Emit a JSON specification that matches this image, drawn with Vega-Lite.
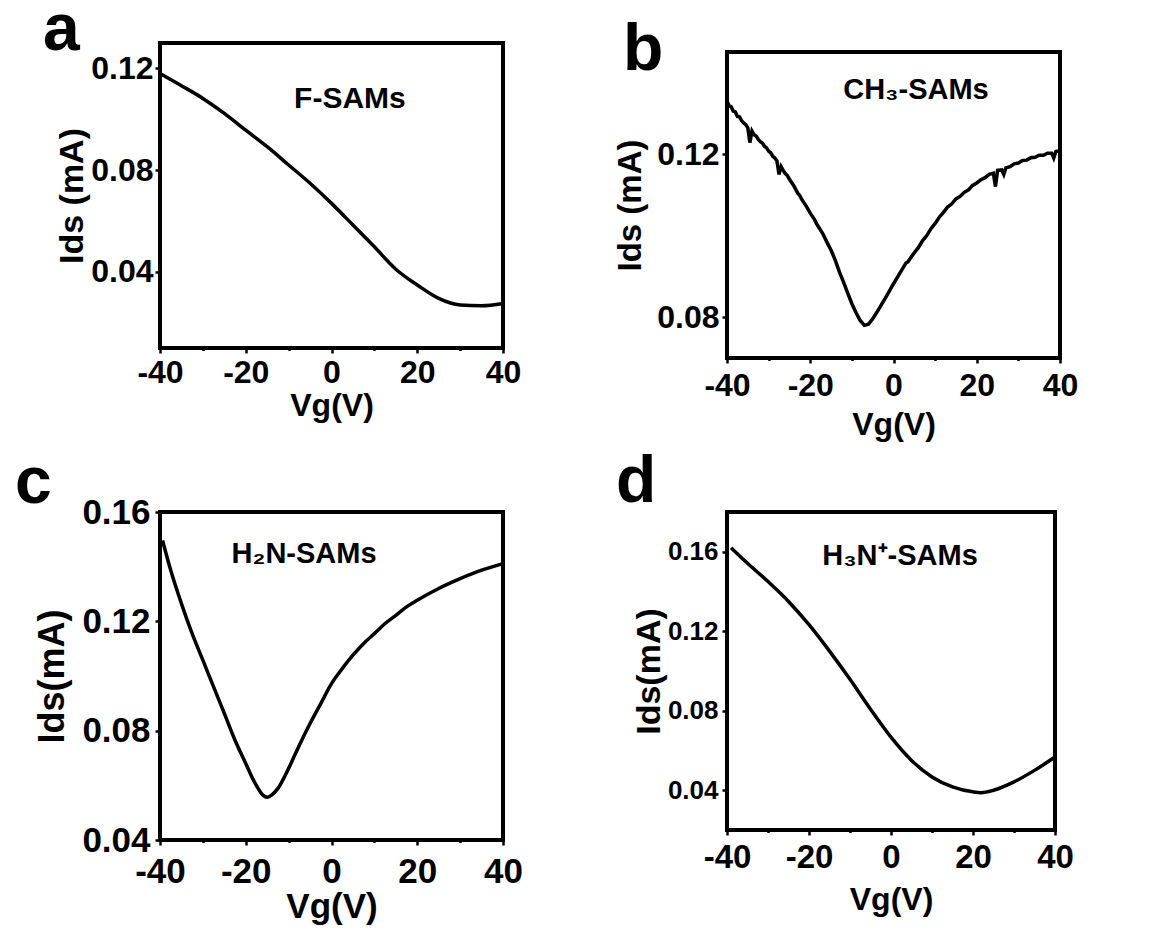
{
  "$schema": "https://vega.github.io/schema/vega-lite/v6.json",
  "padding": {"left": 13, "top": -5, "right": 0, "bottom": 0},
  "background": "white",
  "config": {
    "font": "Liberation Sans",
    "view": {"stroke": "black", "strokeWidth": 4},
    "axis": {
      "domain": false, "grid": false, "tickColor": "black", "tickWidth": 2.5,
      "labelColor": "black", "titleColor": "black",
      "labelFont": "Liberation Sans", "titleFont": "Liberation Sans",
      "labelFontWeight": "bold", "titleFontWeight": "bold",
      "labelOverlap": false, "labelFlush": false
    },
    "title": {"font": "Liberation Sans", "fontWeight": "bold", "color": "black", "anchor": "start", "frame": "group", "baseline": "alphabetic", "fontSize": 66}
  },
  "datasets": {
    "curves": [
      {"panel": "a", "vg": -40, "ids": 0.118},
      {"panel": "a", "vg": -35, "ids": 0.1132},
      {"panel": "a", "vg": -30, "ids": 0.1082},
      {"panel": "a", "vg": -25, "ids": 0.1023},
      {"panel": "a", "vg": -20, "ids": 0.0957},
      {"panel": "a", "vg": -15, "ids": 0.0892},
      {"panel": "a", "vg": -10, "ids": 0.082},
      {"panel": "a", "vg": -5, "ids": 0.0748},
      {"panel": "a", "vg": 0, "ids": 0.0669},
      {"panel": "a", "vg": 5, "ids": 0.0584},
      {"panel": "a", "vg": 10, "ids": 0.0498},
      {"panel": "a", "vg": 15, "ids": 0.041},
      {"panel": "a", "vg": 20, "ids": 0.0348},
      {"panel": "a", "vg": 25, "ids": 0.0295},
      {"panel": "a", "vg": 30, "ids": 0.0269},
      {"panel": "a", "vg": 35, "ids": 0.0266},
      {"panel": "a", "vg": 40, "ids": 0.0275},

      {"panel": "b", "vg": -40, "ids": 0.1330},
      {"panel": "b", "vg": -39.5, "ids": 0.1318},
      {"panel": "b", "vg": -39, "ids": 0.1316},
      {"panel": "b", "vg": -38.5, "ids": 0.1305},
      {"panel": "b", "vg": -38, "ids": 0.1303},
      {"panel": "b", "vg": -37.5, "ids": 0.1292},
      {"panel": "b", "vg": -37, "ids": 0.1291},
      {"panel": "b", "vg": -36.5, "ids": 0.1282},
      {"panel": "b", "vg": -36, "ids": 0.1276},
      {"panel": "b", "vg": -35.5, "ids": 0.1272},
      {"panel": "b", "vg": -35, "ids": 0.1264},
      {"panel": "b", "vg": -34.5, "ids": 0.1228},
      {"panel": "b", "vg": -34, "ids": 0.1256},
      {"panel": "b", "vg": -33.5, "ids": 0.1247},
      {"panel": "b", "vg": -33, "ids": 0.1244},
      {"panel": "b", "vg": -32.5, "ids": 0.1236},
      {"panel": "b", "vg": -32, "ids": 0.1230},
      {"panel": "b", "vg": -31.5, "ids": 0.1227},
      {"panel": "b", "vg": -31, "ids": 0.1219},
      {"panel": "b", "vg": -30.5, "ids": 0.1215},
      {"panel": "b", "vg": -30, "ids": 0.1207},
      {"panel": "b", "vg": -29.5, "ids": 0.1203},
      {"panel": "b", "vg": -29, "ids": 0.1194},
      {"panel": "b", "vg": -28.5, "ids": 0.1190},
      {"panel": "b", "vg": -28, "ids": 0.1183},
      {"panel": "b", "vg": -27.5, "ids": 0.1150},
      {"panel": "b", "vg": -27, "ids": 0.1169},
      {"panel": "b", "vg": -26.5, "ids": 0.1160},
      {"panel": "b", "vg": -26, "ids": 0.1152},
      {"panel": "b", "vg": -25.5, "ids": 0.1147},
      {"panel": "b", "vg": -25, "ids": 0.1138},
      {"panel": "b", "vg": -24, "ids": 0.1123},
      {"panel": "b", "vg": -23, "ids": 0.1104},
      {"panel": "b", "vg": -22.5, "ids": 0.1098},
      {"panel": "b", "vg": -22, "ids": 0.1088},
      {"panel": "b", "vg": -21, "ids": 0.1073},
      {"panel": "b", "vg": -20, "ids": 0.1055},
      {"panel": "b", "vg": -19, "ids": 0.1040},
      {"panel": "b", "vg": -18.5, "ids": 0.1029},
      {"panel": "b", "vg": -18, "ids": 0.1021},
      {"panel": "b", "vg": -17, "ids": 0.1005},
      {"panel": "b", "vg": -16, "ids": 0.0984},
      {"panel": "b", "vg": -15, "ids": 0.0964},
      {"panel": "b", "vg": -14, "ids": 0.0940},
      {"panel": "b", "vg": -13, "ids": 0.0911},
      {"panel": "b", "vg": -12, "ids": 0.0886},
      {"panel": "b", "vg": -11, "ids": 0.0859},
      {"panel": "b", "vg": -10, "ids": 0.0833},
      {"panel": "b", "vg": -9, "ids": 0.0811},
      {"panel": "b", "vg": -8, "ids": 0.0792},
      {"panel": "b", "vg": -7, "ids": 0.0780},
      {"panel": "b", "vg": -6, "ids": 0.0783},
      {"panel": "b", "vg": -5, "ids": 0.0796},
      {"panel": "b", "vg": -4, "ids": 0.0812},
      {"panel": "b", "vg": -3, "ids": 0.0829},
      {"panel": "b", "vg": -2, "ids": 0.0846},
      {"panel": "b", "vg": -1, "ids": 0.0864},
      {"panel": "b", "vg": 0, "ids": 0.0882},
      {"panel": "b", "vg": 1, "ids": 0.0899},
      {"panel": "b", "vg": 2, "ids": 0.0916},
      {"panel": "b", "vg": 3, "ids": 0.0933},
      {"panel": "b", "vg": 3.5, "ids": 0.0936},
      {"panel": "b", "vg": 4, "ids": 0.0944},
      {"panel": "b", "vg": 5, "ids": 0.0958},
      {"panel": "b", "vg": 6, "ids": 0.0971},
      {"panel": "b", "vg": 7, "ids": 0.0988},
      {"panel": "b", "vg": 8, "ids": 0.1000},
      {"panel": "b", "vg": 9, "ids": 0.1017},
      {"panel": "b", "vg": 10, "ids": 0.1030},
      {"panel": "b", "vg": 11, "ids": 0.1045},
      {"panel": "b", "vg": 12, "ids": 0.1057},
      {"panel": "b", "vg": 13, "ids": 0.1070},
      {"panel": "b", "vg": 14, "ids": 0.1078},
      {"panel": "b", "vg": 15, "ids": 0.1090},
      {"panel": "b", "vg": 16, "ids": 0.1096},
      {"panel": "b", "vg": 17, "ids": 0.1106},
      {"panel": "b", "vg": 18, "ids": 0.1112},
      {"panel": "b", "vg": 19, "ids": 0.1123},
      {"panel": "b", "vg": 20, "ids": 0.1129},
      {"panel": "b", "vg": 21, "ids": 0.1137},
      {"panel": "b", "vg": 22, "ids": 0.1142},
      {"panel": "b", "vg": 23, "ids": 0.1150},
      {"panel": "b", "vg": 24, "ids": 0.1153},
      {"panel": "b", "vg": 24.5, "ids": 0.1120},
      {"panel": "b", "vg": 25, "ids": 0.1160},
      {"panel": "b", "vg": 26, "ids": 0.1161},
      {"panel": "b", "vg": 26.5, "ids": 0.1150},
      {"panel": "b", "vg": 27, "ids": 0.1166},
      {"panel": "b", "vg": 28, "ids": 0.1169},
      {"panel": "b", "vg": 29, "ids": 0.1176},
      {"panel": "b", "vg": 30, "ids": 0.1178},
      {"panel": "b", "vg": 31, "ids": 0.1184},
      {"panel": "b", "vg": 32, "ids": 0.1185},
      {"panel": "b", "vg": 33, "ids": 0.1191},
      {"panel": "b", "vg": 34, "ids": 0.1192},
      {"panel": "b", "vg": 35, "ids": 0.1197},
      {"panel": "b", "vg": 36, "ids": 0.1197},
      {"panel": "b", "vg": 37, "ids": 0.1202},
      {"panel": "b", "vg": 38, "ids": 0.1202},
      {"panel": "b", "vg": 38.5, "ids": 0.1190},
      {"panel": "b", "vg": 39, "ids": 0.1206},
      {"panel": "b", "vg": 40, "ids": 0.1208},

      {"panel": "c", "vg": -39.4, "ids": 0.1496},
      {"panel": "c", "vg": -37.5, "ids": 0.1387},
      {"panel": "c", "vg": -35, "ids": 0.1265},
      {"panel": "c", "vg": -32.5, "ids": 0.1155},
      {"panel": "c", "vg": -30, "ids": 0.1058},
      {"panel": "c", "vg": -27.5, "ids": 0.096},
      {"panel": "c", "vg": -25, "ids": 0.0863},
      {"panel": "c", "vg": -22.5, "ids": 0.0765},
      {"panel": "c", "vg": -20, "ids": 0.068},
      {"panel": "c", "vg": -18, "ids": 0.0613},
      {"panel": "c", "vg": -16, "ids": 0.0564},
      {"panel": "c", "vg": -15, "ids": 0.0556},
      {"panel": "c", "vg": -14, "ids": 0.0564},
      {"panel": "c", "vg": -12.5, "ids": 0.0589},
      {"panel": "c", "vg": -10, "ids": 0.0662},
      {"panel": "c", "vg": -7.5, "ids": 0.0747},
      {"panel": "c", "vg": -5, "ids": 0.0826},
      {"panel": "c", "vg": -2.5, "ids": 0.0899},
      {"panel": "c", "vg": 0, "ids": 0.0972},
      {"panel": "c", "vg": 2.5, "ids": 0.1027},
      {"panel": "c", "vg": 5, "ids": 0.1076},
      {"panel": "c", "vg": 7.5, "ids": 0.1119},
      {"panel": "c", "vg": 10, "ids": 0.1155},
      {"panel": "c", "vg": 12.5, "ids": 0.1192},
      {"panel": "c", "vg": 15, "ids": 0.1222},
      {"panel": "c", "vg": 17.5, "ids": 0.1253},
      {"panel": "c", "vg": 20, "ids": 0.1277},
      {"panel": "c", "vg": 25, "ids": 0.132},
      {"panel": "c", "vg": 30, "ids": 0.1356},
      {"panel": "c", "vg": 35, "ids": 0.1387},
      {"panel": "c", "vg": 40, "ids": 0.1411},

      {"panel": "d", "vg": -39, "ids": 0.162},
      {"panel": "d", "vg": -35, "ids": 0.1542},
      {"panel": "d", "vg": -30, "ids": 0.145},
      {"panel": "d", "vg": -25, "ids": 0.135},
      {"panel": "d", "vg": -20, "ids": 0.1233},
      {"panel": "d", "vg": -15, "ids": 0.11},
      {"panel": "d", "vg": -10, "ids": 0.0958},
      {"panel": "d", "vg": -5, "ids": 0.0808},
      {"panel": "d", "vg": 0, "ids": 0.0667},
      {"panel": "d", "vg": 5, "ids": 0.055},
      {"panel": "d", "vg": 10, "ids": 0.0467},
      {"panel": "d", "vg": 15, "ids": 0.0417},
      {"panel": "d", "vg": 20, "ids": 0.0392},
      {"panel": "d", "vg": 22, "ids": 0.0388},
      {"panel": "d", "vg": 25, "ids": 0.04},
      {"panel": "d", "vg": 30, "ids": 0.0442},
      {"panel": "d", "vg": 35, "ids": 0.05},
      {"panel": "d", "vg": 40, "ids": 0.0567}
    ],
    "labels": [
      {"panel": "a", "vg": 4.3, "ids": 0.108, "text": "F-SAMs"},
      {"panel": "b", "vg": 5.4, "ids": 0.1356, "text": "CH₃-SAMs"},
      {"panel": "c", "vg": -6.4, "ids": 0.1446, "text": "H₂N-SAMs"},
      {"panel": "d", "vg": 2.2, "ids": 0.158, "text": "H₃N⁺-SAMs"}
    ]
  },
  "bounds": "full",
  "spacing": 87,
  "hconcat": [
    {
      "bounds": "flush",
      "spacing": 164,
      "vconcat": [
        {
          "width": 343, "height": 305,
          "title": {"text": "a", "dx": -117, "offset": -21},
          "layer": [
            {
              "data": {"name": "curves"},
              "transform": [{"filter": "datum.panel === 'a'"}],
              "mark": {"type": "line", "color": "black", "strokeWidth": 3.5, "interpolate": "monotone"},
              "encoding": {
                "x": {"field": "vg", "type": "quantitative", "scale": {"domain": [-40, 40], "nice": false, "zero": false},
                  "axis": {"title": "Vg(V)", "values": [-40, -30, -20, -10, 0, 10, 20, 30, 40],
                    "labelExpr": "datum.value % 20 === 0 ? toString(datum.value) : ''",
                    "tickSize": {"condition": {"test": "datum.value % 20 === 0", "value": 5}, "value": 2.5},
                    "labelFontSize": 32, "titleFontSize": 32, "labelPadding": 4, "titlePadding": 2}},
                "y": {"field": "ids", "type": "quantitative", "scale": {"domain": [0.01, 0.13], "nice": false, "zero": false},
                  "axis": {"title": "Ids (mA)", "values": [0.02, 0.04, 0.06, 0.08, 0.10, 0.12],
                    "labelExpr": "round(datum.value*100) % 4 === 0 ? format(datum.value, '.2f') : ''",
                    "tickSize": {"condition": {"test": "round(datum.value*100) % 4 === 0", "value": 5}, "value": 2.5},
                    "labelFontSize": 32, "titleFontSize": 34, "labelPadding": 2, "titlePadding": 1}}
              }
            },
            {
              "data": {"name": "labels"},
              "transform": [{"filter": "datum.panel === 'a'"}],
              "mark": {"type": "text", "fontSize": 30, "fontWeight": "bold", "color": "black", "align": "center", "baseline": "middle"},
              "encoding": {
                "x": {"field": "vg", "type": "quantitative"},
                "y": {"field": "ids", "type": "quantitative"},
                "text": {"field": "text"}
              }
            }
          ]
        },
        {
          "width": 343, "height": 328,
          "title": {"text": "c", "dx": -145, "offset": -22},
          "layer": [
            {
              "data": {"name": "curves"},
              "transform": [{"filter": "datum.panel === 'c'"}],
              "mark": {"type": "line", "color": "black", "strokeWidth": 3.5, "interpolate": "monotone"},
              "encoding": {
                "x": {"field": "vg", "type": "quantitative", "scale": {"domain": [-40, 40], "nice": false, "zero": false},
                  "axis": {"title": "Vg(V)", "values": [-40, -30, -20, -10, 0, 10, 20, 30, 40],
                    "labelExpr": "datum.value % 20 === 0 ? toString(datum.value) : ''",
                    "tickSize": {"condition": {"test": "datum.value % 20 === 0", "value": 5}, "value": 2.5},
                    "labelFontSize": 35, "titleFontSize": 35, "labelPadding": 9, "titlePadding": 0}},
                "y": {"field": "ids", "type": "quantitative", "scale": {"domain": [0.04, 0.16], "nice": false, "zero": false},
                  "axis": {"title": "Ids(mA)", "values": [0.04, 0.06, 0.08, 0.10, 0.12, 0.14, 0.16],
                    "labelExpr": "round(datum.value*100) % 4 === 0 ? format(datum.value, '.2f') : ''",
                    "tickSize": {"condition": {"test": "round(datum.value*100) % 4 === 0", "value": 5}, "value": 2.5},
                    "labelFontSize": 35, "titleFontSize": 36, "labelPadding": 5, "titlePadding": 10}}
              }
            },
            {
              "data": {"name": "labels"},
              "transform": [{"filter": "datum.panel === 'c'"}],
              "mark": {"type": "text", "fontSize": 29, "fontWeight": "bold", "color": "black", "align": "center", "baseline": "middle"},
              "encoding": {
                "x": {"field": "vg", "type": "quantitative"},
                "y": {"field": "ids", "type": "quantitative"},
                "text": {"field": "text"}
              }
            }
          ]
        }
      ]
    },
    {
      "bounds": "flush",
      "spacing": 8,
      "vconcat": [
        {
          "width": 1, "height": 1,
          "view": {"stroke": null},
          "data": {"values": []},
          "mark": "point"
        },
        {
          "bounds": "flush",
          "spacing": 154,
          "vconcat": [
            {
              "width": 333, "height": 306,
              "title": {"text": "b", "dx": -104, "offset": -32},
              "layer": [
                {
                  "data": {"name": "curves"},
                  "transform": [{"filter": "datum.panel === 'b'"}],
                  "mark": {"type": "line", "color": "black", "strokeWidth": 3.5},
                  "encoding": {
                    "x": {"field": "vg", "type": "quantitative", "scale": {"domain": [-40, 40], "nice": false, "zero": false},
                      "axis": {"title": "Vg(V)", "values": [-40, -30, -20, -10, 0, 10, 20, 30, 40],
                        "labelExpr": "datum.value % 20 === 0 ? toString(datum.value) : ''",
                        "tickSize": {"condition": {"test": "datum.value % 20 === 0", "value": 5}, "value": 2.5},
                        "labelFontSize": 32, "titleFontSize": 32, "labelPadding": 7, "titlePadding": 8}},
                    "y": {"field": "ids", "type": "quantitative", "scale": {"domain": [0.07, 0.145], "nice": false, "zero": false},
                      "axis": {"title": "Ids (mA)", "values": [0.08, 0.10, 0.12, 0.14],
                        "labelExpr": "round(datum.value*100) % 4 === 0 ? format(datum.value, '.2f') : ''",
                        "tickSize": {"condition": {"test": "round(datum.value*100) % 4 === 0", "value": 5}, "value": 2.5},
                        "labelFontSize": 32, "titleFontSize": 33, "labelPadding": 3, "titlePadding": 9}}
                  }
                },
                {
                  "data": {"name": "labels"},
                  "transform": [{"filter": "datum.panel === 'b'"}],
                  "mark": {"type": "text", "fontSize": 29, "fontWeight": "bold", "color": "black", "align": "center", "baseline": "middle"},
                  "encoding": {
                    "x": {"field": "vg", "type": "quantitative"},
                    "y": {"field": "ids", "type": "quantitative"},
                    "text": {"field": "text"}
                  }
                }
              ]
            },
            {
              "width": 328, "height": 318,
              "title": {"text": "d", "dx": -111, "offset": -4},
              "layer": [
                {
                  "data": {"name": "curves"},
                  "transform": [{"filter": "datum.panel === 'd'"}],
                  "mark": {"type": "line", "color": "black", "strokeWidth": 3.5, "interpolate": "monotone"},
                  "encoding": {
                    "x": {"field": "vg", "type": "quantitative", "scale": {"domain": [-40, 40], "nice": false, "zero": false},
                      "axis": {"title": "Vg(V)", "values": [-40, -30, -20, -10, 0, 10, 20, 30, 40],
                        "labelExpr": "datum.value % 20 === 0 ? toString(datum.value) : ''",
                        "tickSize": {"condition": {"test": "datum.value % 20 === 0", "value": 5}, "value": 2.5},
                        "labelFontSize": 33, "titleFontSize": 32, "labelPadding": 6, "titlePadding": 10}},
                    "y": {"field": "ids", "type": "quantitative", "scale": {"domain": [0.02, 0.18], "nice": false, "zero": false},
                      "axis": {"title": "Ids(mA)", "values": [0.04, 0.06, 0.08, 0.10, 0.12, 0.14, 0.16],
                        "labelExpr": "round(datum.value*100) % 4 === 0 ? format(datum.value, '.2f') : ''",
                        "tickSize": {"condition": {"test": "round(datum.value*100) % 4 === 0", "value": 5}, "value": 2.5},
                        "labelFontSize": 26, "titleFontSize": 34, "labelPadding": 4, "titlePadding": 1}}
                  }
                },
                {
                  "data": {"name": "labels"},
                  "transform": [{"filter": "datum.panel === 'd'"}],
                  "mark": {"type": "text", "fontSize": 29, "fontWeight": "bold", "color": "black", "align": "center", "baseline": "middle"},
                  "encoding": {
                    "x": {"field": "vg", "type": "quantitative"},
                    "y": {"field": "ids", "type": "quantitative"},
                    "text": {"field": "text"}
                  }
                }
              ]
            }
          ]
        }
      ]
    }
  ]
}
